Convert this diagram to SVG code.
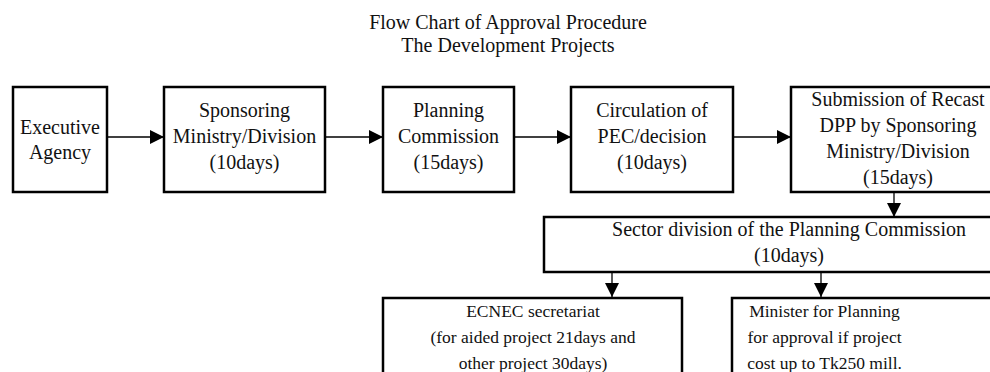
<svg xmlns="http://www.w3.org/2000/svg" width="990" height="372" viewBox="0 0 990 372">
<style>
  .box { fill: #fff; stroke: #000; stroke-width: 2.5; }
  .t { font-family: "Liberation Serif", "Times New Roman", serif; font-size: 20px; fill: #111; text-anchor: middle; }
  .s { font-size: 17.5px; }
  .c { stroke: #000; stroke-width: 1.3; fill: none; marker-end: url(#ah); }
</style>
<defs>
  <marker id="ah" markerUnits="userSpaceOnUse" markerWidth="15" markerHeight="14" refX="14" refY="7" orient="auto">
    <path d="M0,0 L14,7 L0,14 Z" fill="#000"/>
  </marker>
</defs>
<rect width="990" height="372" fill="#fff"/>
<g id="title">
  <text class="t" x="508" y="29">Flow Chart of Approval Procedure</text>
  <text class="t" x="508" y="52">The Development Projects</text>
</g>
<g id="connectors">
  <line class="c" x1="107" y1="137" x2="164" y2="137"/>
  <line class="c" x1="325" y1="137" x2="383" y2="137"/>
  <line class="c" x1="514" y1="137" x2="571" y2="137"/>
  <line class="c" x1="733" y1="137" x2="791" y2="137"/>
  <line class="c" x1="894" y1="192" x2="894" y2="217"/>
  <line class="c" x1="612" y1="272" x2="612" y2="297"/>
  <line class="c" x1="821" y1="272" x2="821" y2="297"/>
</g>
<g id="executive">
  <rect class="box" x="13" y="87" width="94" height="105"/>
  <text class="t" x="60" y="134">Executive</text>
  <text class="t" x="60" y="159">Agency</text>
</g>
<g id="sponsoring">
  <rect class="box" x="164" y="87" width="161" height="105"/>
  <text class="t" x="244.5" y="117">Sponsoring</text>
  <text class="t" x="244.5" y="143">Ministry/Division</text>
  <text class="t" x="244.5" y="169">(10days)</text>
</g>
<g id="planning">
  <rect class="box" x="383" y="87" width="131" height="105"/>
  <text class="t" x="448.5" y="117">Planning</text>
  <text class="t" x="448.5" y="143">Commission</text>
  <text class="t" x="448.5" y="169">(15days)</text>
</g>
<g id="circulation">
  <rect class="box" x="571" y="87" width="162" height="105"/>
  <text class="t" x="652" y="117">Circulation of</text>
  <text class="t" x="652" y="143">PEC/decision</text>
  <text class="t" x="652" y="169">(10days)</text>
</g>
<g id="recast">
  <rect class="box" x="791" y="87" width="230" height="105"/>
  <text class="t" x="898" y="106">Submission of Recast</text>
  <text class="t" x="898" y="132">DPP by Sponsoring</text>
  <text class="t" x="898" y="158">Ministry/Division</text>
  <text class="t" x="898" y="184">(15days)</text>
</g>
<g id="sector">
  <rect class="box" x="544" y="217" width="480" height="55"/>
  <text class="t" x="789" y="236">Sector division of the Planning Commission</text>
  <text class="t" x="789" y="262">(10days)</text>
</g>
<g id="ecnec">
  <rect class="box" x="383" y="298" width="299" height="120"/>
  <text class="t s" x="533" y="317">ECNEC secretariat</text>
  <text class="t s" x="533" y="343">(for aided project 21days and</text>
  <text class="t s" x="533" y="369">other project 30days)</text>
</g>
<g id="minister">
  <rect class="box" x="732" y="298" width="290" height="120"/>
  <text class="t s" x="824.5" y="317">Minister for Planning</text>
  <text class="t s" x="824.5" y="343">for approval if project</text>
  <text class="t s" x="824.5" y="369">cost up to Tk250 mill.</text>
</g>
</svg>
